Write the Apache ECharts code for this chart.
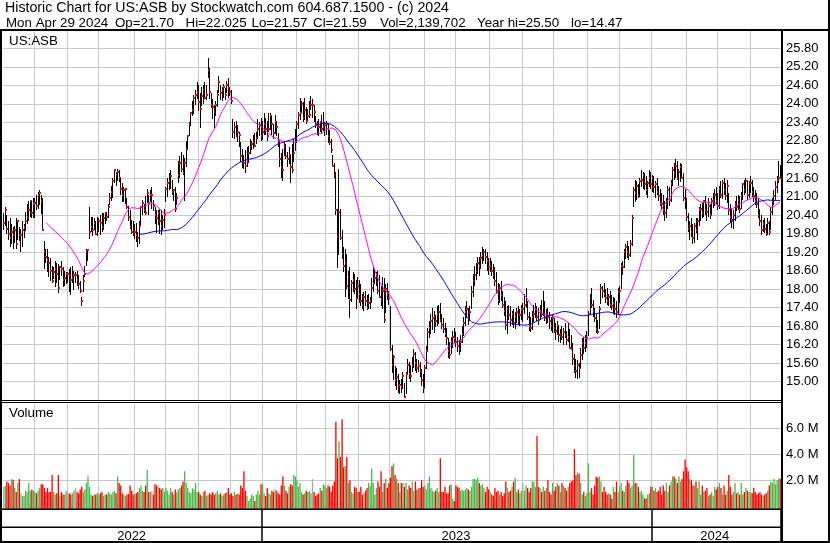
<!DOCTYPE html>
<html><head><meta charset="utf-8">
<script src="https://cdn.jsdelivr.net/npm/echarts@6/dist/echarts.min.js"></script>
<style>html,body{margin:0;padding:0;background:#fff}#c{width:830px;height:543px}</style>
</head><body><div id="c"></div>
<script>
// ---------- DATA (daily bars, 2022-05 .. 2024-04-29) ----------
const highs = [
// 2022
20.45,20.65,20.4,20.2,20.3,20.1,20.0,20.05,20.3,20.25,20.0,19.95,20.2,20.1,20.5,20.75,20.85,20.9,20.85,20.95,
20.95,21.05,21.15,21.2,21.05,20.95,19.55,19.3,19.3,19.05,19.0,18.75,18.7,18.9,18.85,18.8,18.75,18.9,18.7,18.6,18.55,
18.55,18.65,18.7,18.75,18.6,18.55,18.6,18.45,18.25,17.75,18.45,18.75,19.3,19.3,20.65,20.35,20.35,20.3,20.2,20.35,
20.3,20.4,20.45,20.45,20.5,20.5,20.75,21.1,21.35,21.6,21.9,21.8,21.9,21.85,21.6,21.45,21.3,21.25,20.95,20.7,20.55,20.25,20.2,
20.1,20.15,19.85,20.2,20.7,20.9,20.75,21.0,21.25,21.05,21.2,21.3,20.9,20.65,20.55,20.55,20.6,20.55,20.4,20.6,
21.3,21.6,21.75,21.85,21.55,21.25,21.3,21.1,22.15,22.3,22.45,22.35,22.25,22.8,23.0,23.4,23.75,24.1,24.3,24.45,24.7,
24.6,24.35,24.55,24.6,24.7,24.6,25.5,25.15,24.35,24.15,23.95,24.1,24.45,24.9,24.6,24.55,24.65,24.5,24.75,24.85,24.55,
24.45,23.5,23.4,23.45,23.3,23.1,22.75,22.55,22.35,22.5,22.6,22.65,22.85,22.8,23.0,23.05,23.1,23.5,23.4,23.55,
// 2023
23.45,23.7,23.55,23.45,23.7,23.7,23.6,23.35,23.65,23.4,23.05,22.75,22.4,22.55,22.75,22.7,22.45,22.6,22.35,22.7,22.85,23.2,
23.45,23.75,24.2,24.1,24.05,24.2,23.9,23.85,24.1,24.25,24.15,23.95,23.6,23.45,23.5,23.45,23.65,23.75,23.4,
23.45,23.35,23.15,22.85,22.35,22.1,21.8,20.6,21.9,20.6,19.9,19.35,19.3,19.15,18.6,18.7,18.3,18.55,18.5,18.3,18.4,
18.3,18.15,17.85,17.9,17.95,17.8,17.85,17.75,18.35,18.75,18.65,18.55,18.6,18.45,18.1,18.4,18.35,18.15,18.2,17.95,
17.45,16.2,15.85,15.5,15.45,15.25,15.05,15.1,15.3,14.95,15.3,15.75,15.65,15.55,15.8,16.05,15.95,15.75,15.7,15.65,15.4,15.25,
15.55,16.15,16.75,16.95,17.2,17.4,17.3,17.15,17.45,17.5,17.55,17.2,17.05,16.9,16.75,16.4,16.3,16.45,16.65,16.75,
16.6,16.45,16.35,16.5,16.8,17.1,17.45,17.6,17.4,17.45,18.1,18.5,18.75,18.85,19.05,19.05,19.2,19.35,19.3,19.3,19.2,19.0,
19.0,18.9,18.8,18.7,18.55,18.2,18.15,18.25,17.95,17.75,17.6,17.45,17.5,17.45,17.3,17.35,17.25,17.4,17.45,17.35,17.5,
17.55,17.85,18.05,17.6,17.25,17.1,17.3,17.5,17.55,17.45,17.4,17.5,17.65,17.95,17.6,17.35,17.4,17.25,17.1,17.2,
17.05,16.9,16.95,16.85,16.7,16.8,16.75,16.9,16.65,16.9,16.7,16.5,16.25,15.9,15.75,15.7,15.6,16.1,16.4,16.45,16.5,16.65,
17.3,17.85,18.05,17.65,17.4,17.2,17.0,17.45,18.15,18.1,18.2,18.0,18.05,17.85,17.95,17.8,17.75,17.7,17.6,18.05,
18.1,18.85,18.9,19.3,19.45,19.55,19.4,19.6,20.4,21.3,21.55,21.5,21.4,21.6,21.85,21.8,21.75,21.65,21.5,21.85,21.8,
// 2024
21.7,21.65,21.5,21.6,21.35,21.25,21.1,21.05,20.85,20.95,21.35,21.3,21.55,21.95,22.1,22.2,22.15,21.9,22.1,22.05,21.75,21.25,
20.95,20.45,20.2,20.3,20.1,20.15,20.3,20.3,20.65,20.75,20.8,20.9,21.0,20.75,20.95,20.75,20.95,21.1,21.25,21.3,
21.1,21.35,21.5,21.55,21.6,21.45,21.55,21.1,20.75,20.6,20.55,20.85,21.0,21.05,21.0,21.15,21.45,21.55,21.6,21.55,21.5,
21.65,21.55,21.3,21.2,21.1,20.95,20.6,20.4,20.25,20.3,20.1,20.3,20.2,20.65,20.95,21.2,21.5,21.65,22.15,22.025
];
const lows = [
// 2022
19.9,20.05,19.8,19.6,19.35,19.45,19.3,19.5,19.3,19.6,19.55,19.2,19.35,19.65,19.9,20.1,20.2,20.35,20.3,20.3,
20.3,20.55,20.6,20.7,20.45,19.9,18.65,18.85,18.55,18.4,18.25,18.2,18.3,18.05,18.2,17.85,18.3,18.4,18.05,18.1,18.15,
18.2,17.9,17.8,18.2,18.0,18.2,18.1,18.0,17.85,17.45,17.9,18.4,18.75,18.9,19.6,19.85,19.75,19.9,19.75,19.75,
19.85,19.75,19.85,19.9,20.1,20.2,20.3,20.7,20.85,20.95,21.45,21.35,21.5,21.45,21.05,20.85,20.8,20.75,20.6,20.2,19.95,19.8,19.7,
19.6,19.55,19.35,19.45,20.1,20.4,20.45,20.4,20.8,20.4,20.8,20.6,20.55,20.1,19.8,20.05,19.8,19.75,19.9,20.0,
20.8,21.0,21.2,21.25,21.05,20.85,20.5,20.7,21.45,21.6,21.8,21.7,20.85,21.95,22.5,22.95,23.3,23.6,23.7,23.95,24.15,
23.75,23.2,23.95,24.0,24.15,24.1,24.85,24.15,23.85,23.5,23.2,23.6,23.9,24.35,24.1,24.1,24.2,24.1,24.35,24.2,24.25,
24.0,22.9,22.85,22.95,22.75,22.6,22.1,21.95,21.9,21.75,21.95,22.1,22.35,22.5,22.55,22.6,22.7,22.85,22.95,22.8,
// 2023
22.85,23.0,23.0,22.8,23.1,23.15,23.0,22.85,23.05,22.95,22.6,21.95,21.6,21.5,22.3,22.2,21.95,22.05,21.45,21.75,22.1,22.5,
22.75,23.2,23.5,23.75,23.4,23.5,23.35,23.5,23.55,23.8,23.55,23.4,23.2,23.0,22.95,23.1,23.05,23.15,22.95,
23.0,22.75,22.65,22.4,21.95,21.6,20.4,18.7,19.1,19.6,18.95,18.55,17.75,18.0,17.7,17.05,17.6,17.9,17.85,17.35,17.7,
17.55,17.45,17.35,17.3,17.45,17.3,17.35,17.35,17.55,17.9,18.15,18.1,17.85,17.7,17.45,17.35,16.9,17.2,17.65,17.5,
16.0,15.3,15.05,14.85,14.75,14.65,14.6,14.65,14.75,14.47,14.6,15.25,15.1,15.0,15.3,15.45,15.35,15.3,15.3,15.15,14.85,14.65,
14.8,15.4,16.0,16.4,16.55,16.7,16.6,16.75,16.8,16.9,16.95,16.7,16.55,16.45,16.2,15.75,15.75,15.9,16.1,16.25,
16.1,15.95,15.85,15.95,16.25,16.5,16.8,17.05,16.85,16.95,17.35,17.75,18.1,18.3,18.5,18.45,18.65,18.8,18.9,18.8,18.6,18.45,
18.55,18.4,18.3,18.1,17.85,17.5,17.55,17.6,17.4,17.15,16.65,16.55,17.0,16.8,16.85,16.75,16.7,16.9,16.85,16.8,17.0,
16.95,17.2,17.4,17.0,16.65,16.6,16.7,16.95,17.05,16.95,16.85,17.0,17.1,17.15,16.95,16.85,16.9,16.7,16.65,16.6,
16.55,16.35,16.5,16.3,16.25,16.35,16.2,16.4,16.2,16.3,16.05,16.0,15.55,15.3,15.15,15.1,15.1,15.45,15.7,15.9,15.95,16.1,
16.5,17.2,17.4,17.1,16.95,16.6,16.55,16.7,17.5,17.7,17.75,17.55,17.5,17.45,17.4,17.3,17.2,17.15,17.05,17.2,
17.55,18.0,18.45,18.7,18.95,19.0,18.95,19.05,19.4,20.65,20.85,20.9,20.95,21.0,21.3,21.25,21.2,21.05,20.95,21.3,21.25,
// 2024
21.15,21.1,20.95,21.05,20.85,20.7,20.55,20.4,20.2,20.3,20.6,20.7,20.85,21.35,21.55,21.6,21.55,21.35,21.5,21.55,20.85,20.6,
20.2,19.85,19.6,19.7,19.45,19.5,19.8,19.6,20.05,20.2,20.3,20.35,20.4,20.2,20.35,20.25,20.4,20.6,20.7,20.75,
20.55,20.6,20.95,20.95,21.05,20.9,20.8,20.4,20.15,20.0,19.95,20.2,20.5,20.55,20.45,20.6,20.9,21.05,21.1,20.9,20.95,
21.1,21.0,20.8,20.7,20.6,20.3,20.05,19.75,19.85,19.8,19.7,19.75,19.75,19.9,20.4,20.7,20.9,21.1,21.45,21.57
];
const closes = [
// 2022
20.15,20.55,19.95,19.8,19.65,19.85,19.75,19.9,19.45,20.2,19.75,19.75,19.9,20.0,20.2,20.35,20.55,20.85,20.45,20.75,
20.8,20.7,21.05,21.1,20.85,19.9,19.2,19.05,18.95,18.85,18.6,18.25,18.55,18.65,18.5,18.05,18.7,18.65,18.3,18.35,18.5,
18.5,18.45,18.3,18.35,18.45,18.45,18.3,18.15,17.95,17.6,18.25,18.5,19.2,19.25,19.85,20.0,19.9,20.15,19.8,19.9,
20.2,20.15,20.0,20.3,20.45,20.35,20.65,20.95,21.15,21.5,21.85,21.7,21.8,21.6,21.25,21.05,21.2,21.25,20.65,20.35,20.0,19.85,19.8,
19.85,19.75,19.65,20.05,20.65,20.8,20.55,20.45,21.1,20.8,21.05,21.05,20.7,20.4,20.3,20.45,20.2,20.05,20.25,20.4,
21.25,21.45,21.5,21.65,21.15,21.2,20.6,20.95,21.7,22.1,21.9,21.75,22.1,22.55,22.95,23.35,23.7,23.8,24.2,24.3,24.35,
24.05,23.85,24.25,24.45,24.2,24.3,25.1,24.4,23.95,23.9,23.75,23.95,24.3,24.7,24.35,24.45,24.55,24.3,24.6,24.5,24.4,
24.1,23.1,23.25,22.95,23.1,23.0,22.3,22.15,22.1,22.0,22.15,22.4,22.6,22.7,22.75,22.65,22.9,23.2,23.3,22.95,
// 2023
23.1,23.35,23.2,22.95,23.2,23.6,23.35,23.05,23.4,23.25,22.8,22.2,21.95,21.85,22.6,22.3,22.2,22.35,21.95,21.85,22.4,22.75,
23.35,23.65,23.7,24.0,23.55,23.8,23.45,23.6,23.65,23.95,23.95,23.75,23.35,23.3,23.25,23.4,23.2,23.25,23.3,
23.35,22.95,22.75,22.5,22.0,21.7,20.55,19.7,20.5,19.65,19.15,18.75,18.85,18.1,18.4,17.65,18.2,18.3,18.0,17.7,18.1,
17.85,17.6,17.5,17.75,17.6,17.4,17.55,17.6,18.05,18.2,18.35,18.5,17.95,17.75,17.65,17.95,17.0,18.0,17.85,17.7,
16.05,15.55,15.8,15.05,15.15,14.85,14.9,14.85,15.2,14.5,15.25,15.55,15.25,15.2,15.55,15.9,15.6,15.45,15.5,15.35,15.05,14.8,
15.45,16.0,16.6,16.75,16.95,17.05,17.1,16.95,17.2,17.25,17.0,16.85,16.7,16.55,16.4,16.0,15.85,16.3,16.45,16.4,
16.3,16.15,16.05,16.3,16.55,16.9,17.25,17.35,17.05,17.25,17.9,18.25,18.45,18.6,18.85,18.75,19.0,19.1,19.2,19.05,18.9,18.7,
18.75,18.6,18.45,18.25,17.95,17.65,18.05,17.8,17.5,17.3,16.85,17.35,17.15,17.0,17.2,16.9,17.1,17.25,16.95,17.15,17.35,
17.35,17.5,17.55,17.1,16.8,16.75,17.1,17.2,17.35,17.1,17.0,17.3,17.2,17.4,17.05,17.2,17.1,16.95,16.8,17.05,
16.75,16.65,16.8,16.5,16.55,16.45,16.6,16.5,16.35,16.45,16.1,16.05,15.75,15.5,15.35,15.55,15.45,15.85,16.25,16.1,16.25,16.4,
17.2,17.7,17.5,17.3,17.05,16.7,16.6,17.35,18.05,17.95,17.85,17.7,17.6,17.75,17.5,17.45,17.55,17.35,17.25,17.9,
17.95,18.75,18.7,19.2,19.35,19.2,19.1,19.45,20.3,21.2,21.1,21.35,21.05,21.5,21.55,21.7,21.4,21.2,21.45,21.6,21.4,
// 2024
21.6,21.3,21.4,21.15,21.0,20.8,20.75,20.55,20.45,20.75,21.2,20.9,21.4,21.85,21.75,22.0,21.6,21.8,21.95,21.6,20.95,20.85,
20.35,19.95,20.05,19.85,19.65,20.05,19.9,20.2,20.55,20.6,20.45,20.85,20.55,20.5,20.7,20.4,20.85,20.9,21.05,20.85,
20.7,21.25,21.05,21.45,21.2,21.0,21.35,20.55,20.35,20.25,20.4,20.75,20.65,20.9,20.6,21.0,21.4,21.2,21.5,21.05,21.4,
21.45,21.15,21.0,20.85,20.75,20.4,20.2,19.9,20.1,19.95,19.8,20.15,19.85,20.5,20.85,21.0,21.3,21.55,21.6,21.59
];
// daily volume, millions of shares
const volumes = [
// 2022
1.5,1.6,1.9,1.8,1.6,2.1,2.0,1.4,1.1,1.8,2.1,1.0,0.8,0.8,1.2,1.1,1.8,1.2,1.3,1.2,
1.1,1.0,1.2,1.4,1.7,1.7,1.4,1.1,1.4,1.1,1.1,2.4,1.1,0.9,1.0,2.4,0.8,1.1,0.9,0.9,1.2,
1.0,1.0,0.9,1.0,1.2,1.4,1.1,1.0,1.3,1.5,1.1,1.3,1.8,2.3,1.5,0.9,0.8,0.9,0.9,1.0,
0.9,1.0,1.1,0.8,0.9,0.9,1.1,1.0,0.9,1.1,1.2,1.0,2.3,1.8,1.6,1.0,0.9,0.8,0.9,0.95,1.6,1.2,0.9,
0.9,1.0,1.1,1.4,1.6,1.2,1.1,1.6,2.8,1.1,1.1,1.2,0.9,1.7,1.6,1.5,1.4,1.3,1.4,1.1,
1.4,1.2,0.9,1.4,1.1,0.9,1.3,1.1,1.3,1.4,1.6,1.9,2.7,1.8,1.4,1.1,1.0,1.4,1.3,1.8,1.1,
1.1,0.9,0.8,1.1,1.2,0.8,0.9,1.0,0.9,1.1,0.9,1.0,1.2,0.9,1.0,0.8,0.9,1.0,1.1,1.4,0.9,
1.0,0.8,1.1,0.9,1.0,0.9,1.6,1.4,2.7,1.2,0.8,0.4,0.6,0.9,0.8,0.4,0.9,1.2,0.9,1.7,
// 2023
1.7,1.0,0.8,1.4,1.0,0.9,1.2,1.1,1.3,1.2,1.0,0.9,1.6,2.3,1.6,1.2,1.0,1.5,1.7,1.6,2.4,2.3,
2.0,1.5,1.8,1.1,0.9,1.0,1.2,1.1,1.2,1.0,2.1,1.1,0.8,0.9,1.0,1.4,1.2,1.7,1.6,
1.4,1.6,1.5,1.1,1.6,1.9,6.5,3.7,5.0,3.8,6.7,3.0,3.1,3.8,1.8,2.0,1.1,1.0,1.5,1.4,1.1,
1.1,1.5,0.9,1.0,1.2,1.4,1.8,1.6,2.9,1.8,0.9,1.4,1.9,1.5,2.7,1.1,1.8,2.1,1.4,1.8,
2.2,3.1,3.3,2.4,2.1,1.8,1.1,1.8,1.8,1.5,1.8,1.3,1.6,1.4,1.9,1.2,1.9,1.3,1.4,1.4,2.0,1.5,
1.6,1.3,1.8,2.3,1.4,1.2,1.1,1.2,1.4,1.1,3.7,1.1,1.1,1.5,1.0,1.0,1.6,1.7,0.6,0.4,
1.6,1.5,1.4,1.2,1.3,1.2,1.3,1.4,1.3,1.2,1.5,2.1,2.1,2.0,2.2,1.8,1.6,1.7,1.4,1.1,1.5,1.3,
1.1,0.9,0.8,1.4,1.1,1.2,0.9,1.1,0.8,1.0,1.9,1.4,1.1,1.2,1.5,1.9,2.2,1.1,1.3,1.0,1.2,
1.8,1.2,1.6,1.4,1.1,1.4,1.9,1.9,1.5,5.4,1.5,1.4,1.1,1.5,1.2,1.4,2.0,1.1,0.9,1.8,
1.2,1.5,1.8,1.6,1.1,1.8,1.6,1.4,1.2,1.5,1.8,1.9,2.0,4.4,2.4,2.6,2.5,1.8,0.9,1.1,0.8,1.0,
3.3,1.1,1.4,0.9,1.6,2.3,2.2,2.3,1.9,1.1,1.5,1.1,0.9,1.0,0.9,0.6,1.5,1.1,1.9,1.1,
1.5,1.8,1.2,1.1,1.6,2.0,1.8,1.4,1.6,3.95,1.8,1.8,1.5,1.1,1.2,0.9,0.6,0.6,0.9,1.0,1.5,
// 2024
1.5,1.2,1.4,1.1,1.2,1.5,0.9,1.6,1.2,1.8,1.1,1.6,1.9,2.3,2.3,2.1,1.8,2.3,1.9,2.1,2.7,3.6,
3.0,2.7,2.1,2.0,1.6,1.6,1.9,1.4,1.9,0.9,1.6,1.1,1.2,1.4,0.8,0.9,1.1,0.8,1.5,1.3,
1.5,1.8,1.4,0.9,1.6,0.9,1.2,2.4,1.5,0.9,1.1,1.8,1.0,1.1,0.9,1.8,0.9,1.1,1.4,1.2,1.1,
1.1,1.0,1.4,1.1,0.9,1.0,1.1,0.9,0.8,0.9,1.0,1.2,1.6,1.9,1.8,2.1,1.7,2.0,2.1,2.14
];
// first bar index of each month (vertical grid lines)
const monthStarts = [20,41,61,84,104,125,146,166,188,207,228,248,270,290,312,333,353,375,395,416,438,458,479];
const yearStarts = [166,416];
const yearNames = ['2022','2023','2024'];
const yearLabelIdx = [82,290,456];
const maPeriods = [28,88];
const symbolLabel = 'US:ASB';
const volumeLabel = 'Volume';
const headerLine1 = 'Historic Chart for US:ASB by Stockwatch.com 604.687.1500 - (c) 2024';
const headerLine2 = ['Mon Apr 29 2024','Op=21.70','Hi=22.025','Lo=21.57','Cl=21.59','Vol=2,139,702','Year hi=25.50','lo=14.47'];

// ---------- CHART ----------
const N = closes.length;
const cats = closes.map((_, i) => String(i));
const monthSet = new Set(monthStarts);
const yearSet = new Set(yearStarts);
const FONT = '"Liberation Sans", Arial, Helvetica, sans-serif';
const GRID = '#c8c8c8';

function sma(arr, n) {
  return arr.map((_, i) => {
    if (i < n - 1) return null;
    let s = 0; for (let k = i - n + 1; k <= i; k++) s += arr[k];
    return +(s / n).toFixed(4);
  });
}
const volData = volumes.map((v, i) => {
  const d = i === 0 ? 0 : closes[i] - closes[i - 1];
  return [i, v, d > 1e-9 ? 1 : (d < -1e-9 ? -1 : 0)];
});
const ohlc = closes.map((c, i) => [i, highs[i], lows[i], c]);

const G = [
  {left: 3, top: 29.8, width: 778, height: 370.4},   // price
  {left: 3, top: 402, width: 778, height: 107.3},    // volume bars
  {left: 3, top: 402.3, width: 778, height: 78},     // volume scale labels
  {left: 3, top: 509.3, width: 778, height: 32}      // year band
];
function catAxis(gi, extra) {
  return Object.assign({gridIndex: gi, type: 'category', data: cats, boundaryGap: true,
    axisLine: {show: false}, axisTick: {show: false}, axisLabel: {show: false},
    splitLine: {show: true, interval: (idx) => monthSet.has(idx), lineStyle: {color: GRID, width: 1}}}, extra || {});
}

function txt(str, x, y, size) {
  return {type: 'text', x: x, y: y, z: 100, silent: true,
    style: {text: str, fill: '#000', font: size + 'px ' + FONT, textAlign: 'left', textVerticalAlign: 'middle', verticalAlign: 'middle'}};
}
function blk(x, y, w, h) {
  return {type: 'rect', z: 95, silent: true, shape: {x: x, y: y, width: w, height: h}, style: {fill: '#000'}};
}
const hx = [6, 115, 185.5, 251.5, 313, 380, 477, 571];
const graphics = [
  blk(0, 29, 830, 2),
  blk(0, 29, 2, 514),
  blk(781, 29, 2, 514),
  blk(0, 400, 783, 1),
  blk(0, 402, 783, 1),
  blk(0, 508.5, 783, 1.5),
  blk(0, 526.5, 783, 1.5),
  blk(0, 541, 830, 2),
  blk(828, 0, 2, 543),
  txt(headerLine1, 5, 8.5, 14.2),
  txt(symbolLabel, 9, 41.5, 13.33),
  txt(volumeLabel, 9, 413, 13.33)
];
headerLine2.forEach((t, k) => graphics.push(txt(t, hx[k], 23.4, 13.33)));
if (highs.length !== N || lows.length !== N || volumes.length !== N) {
  graphics.push(txt('LEN ' + highs.length + ' ' + lows.length + ' ' + N + ' ' + volumes.length, 300, 200, 20));
}

const chart = echarts.init(document.getElementById('c'), null, {renderer: 'canvas', devicePixelRatio: 1});
chart.setOption({
  animation: false,
  backgroundColor: '#fff',
  grid: G,
  xAxis: [
    catAxis(0),
    catAxis(1),
    {gridIndex: 2, type: 'category', data: cats, show: false},
    catAxis(3, {
      axisLabel: {show: true, inside: true, margin: -2, interval: (idx) => yearLabelIdx.indexOf(idx) >= 0,
        formatter: (v, idx) => { const k = yearLabelIdx.indexOf(+v); return k >= 0 ? yearNames[k] : ''; },
        color: '#000', fontSize: 13, fontFamily: FONT},
      splitLine: {show: true, interval: (idx) => yearSet.has(idx), lineStyle: {color: '#000', width: 1.5}}
    })
  ],
  yAxis: [
    {gridIndex: 0, type: 'value', position: 'right', min: 14.4, max: 26.4, interval: 0.6,
      axisLine: {show: false}, axisTick: {show: false},
      axisLabel: {margin: 5, color: '#000', fontSize: 13, fontFamily: FONT,
        formatter: (v) => (v > 14.9 && v < 25.9) ? v.toFixed(2) : ''},
      splitLine: {show: true, lineStyle: {color: GRID, width: 1}}},
    {gridIndex: 1, type: 'value', min: -0.2308, max: 8.023, show: false},
    {gridIndex: 2, type: 'value', position: 'right', min: 2, max: 8, interval: 2,
      axisLine: {show: false}, axisTick: {show: false},
      axisLabel: {margin: 5, color: '#000', fontSize: 13, fontFamily: FONT,
        formatter: (v) => v < 7 ? v.toFixed(1) + ' M' : ''},
      splitLine: {show: true, lineStyle: {color: GRID, width: 1}}},
    {gridIndex: 3, type: 'value', show: false}
  ],
  series: [
    {type: 'custom', xAxisIndex: 0, yAxisIndex: 0, z: 2, clip: true, data: ohlc,
      encode: {x: 0, y: [1, 2, 3]},
      renderItem: (params, api) => {
        const i = api.value(0);
        const pH = api.coord([i, api.value(1)]);
        const pL = api.coord([i, api.value(2)]);
        const pC = api.coord([i, api.value(3)]);
        const X = Math.floor(pH[0]);
        const yc = Math.round(pC[1]);
        return {type: 'group', children: [
          {type: 'rect', shape: {x: X, y: Math.round(pH[1]), width: 1, height: Math.max(1, Math.round(pL[1] - pH[1]))}, style: {fill: '#000'}},
          {type: 'rect', shape: {x: X, y: yc - 1, width: 2, height: 2}, style: {fill: '#ff0000'}}
        ]};
      }},
    {type: 'line', xAxisIndex: 0, yAxisIndex: 0, z: 4, data: sma(closes, maPeriods[0]), showSymbol: false,
      symbol: 'none', connectNulls: false, lineStyle: {color: '#ff00ff', width: 1}, silent: true},
    {type: 'line', xAxisIndex: 0, yAxisIndex: 0, z: 4, data: sma(closes, maPeriods[1]), showSymbol: false,
      symbol: 'none', connectNulls: false, lineStyle: {color: '#0000ff', width: 1}, silent: true},
    {type: 'custom', xAxisIndex: 1, yAxisIndex: 1, z: 2, clip: false, data: volData,
      encode: {x: 0, y: 1},
      renderItem: (params, api) => {
        const i = api.value(0);
        const dir = api.value(2);
        const top = api.coord([i, api.value(1)]);
        const bottom = params.coordSys.y + params.coordSys.height;
        const w = api.size([1, 0])[0] * 0.85;
        const col = dir > 0 ? '#4cb84c' : (dir < 0 ? '#ff0000' : '#a8a8a8');
        return {type: 'rect', shape: {x: top[0] - w / 2, y: top[1], width: w, height: bottom - top[1]}, style: {fill: col}};
      }}
  ],
  graphic: graphics
});
</script>
</body></html>
